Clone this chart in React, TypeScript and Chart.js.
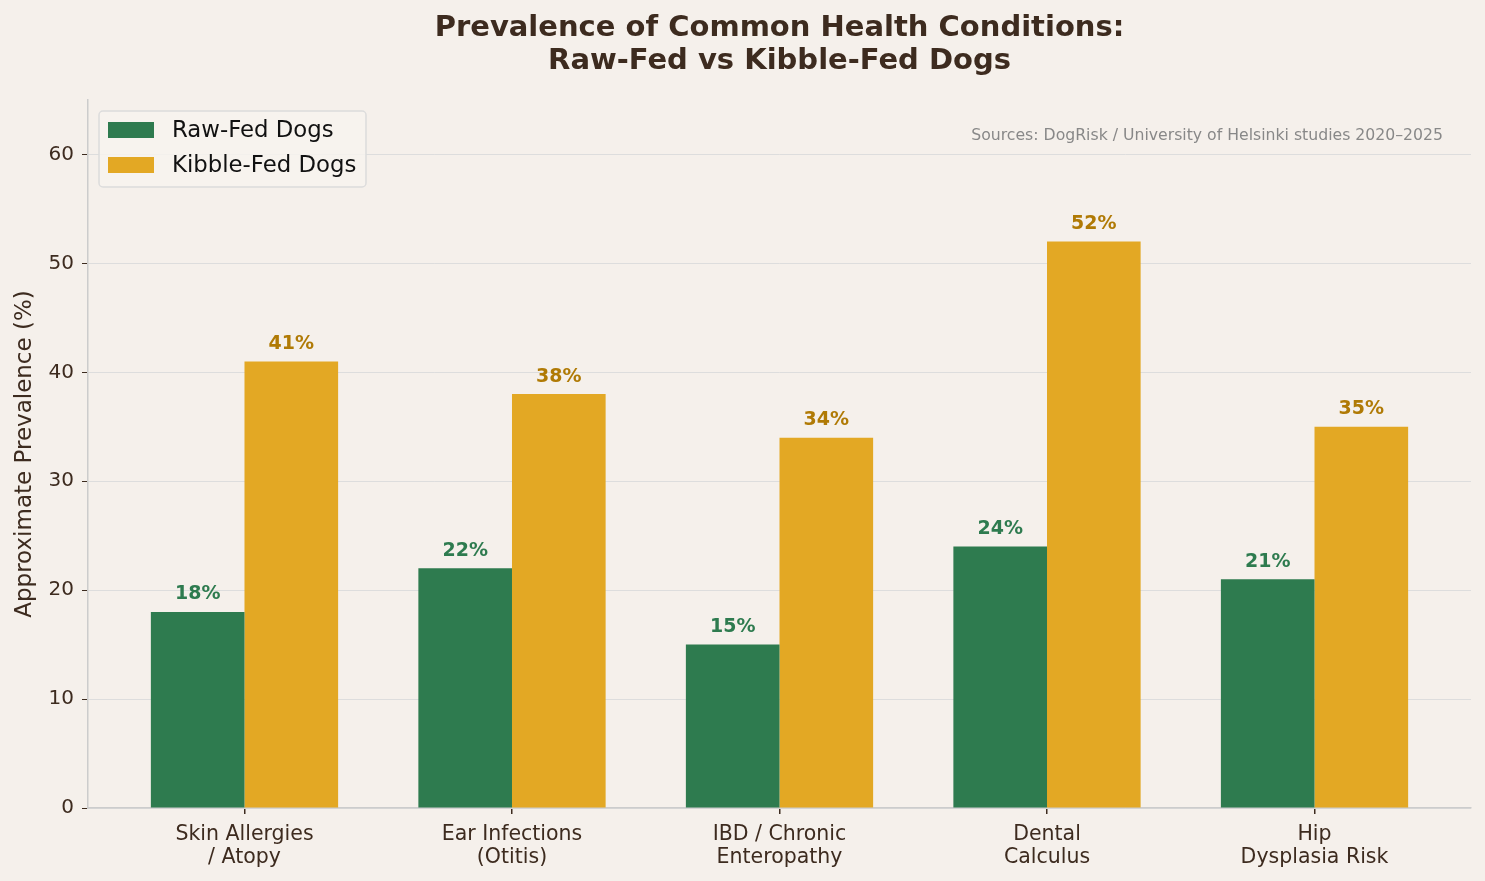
import React, { useEffect, useRef } from "react";
import { Chart, registerables } from "chart.js";

Chart.register(...registerables);

// Health condition categories (multi-line tick labels)
const conditions: string[][] = [
  ["Skin Allergies", "/ Atopy"],
  ["Ear Infections", "(Otitis)"],
  ["IBD / Chronic", "Enteropathy"],
  ["Dental", "Calculus"],
  ["Hip", "Dysplasia Risk"],
];

// Approximate prevalence (%) per diet group
const rawFed: number[] = [18, 22, 15, 24, 21];
const kibbleFed: number[] = [41, 38, 34, 52, 35];

const yTicks: number[] = [0, 10, 20, 30, 40, 50, 60];

const seriesNames = ["Raw-Fed Dogs", "Kibble-Fed Dogs"];
const barColors = ["#2e7b4f", "#e3a824"];
const labelColors = ["#2e7b4f", "#b07a05"];

const BG = "#f5f0eb";
const INK = "#3d2b1f";
const FONT = "'DejaVu Sans', sans-serif";

const decorPlugin = {
  id: "decor",
  beforeDraw(chart: any) {
    const { ctx, width, height } = chart;
    ctx.save();
    ctx.fillStyle = BG;
    ctx.fillRect(0, 0, width, height);
    ctx.restore();
  },
  afterDatasetsDraw(chart: any) {
    const { ctx } = chart;
    ctx.save();
    ctx.font = `bold 19px ${FONT}`;
    ctx.textAlign = "center";
    ctx.textBaseline = "middle";
    chart.data.datasets.forEach((ds: any, di: number) => {
      const meta = chart.getDatasetMeta(di);
      meta.data.forEach((bar: any, i: number) => {
        const v = ds.data[i].y;
        ctx.fillStyle = labelColors[di];
        ctx.fillText(`${v}%`, bar.x, bar.y - 17.5);
      });
    });
    ctx.restore();
  },
  afterDraw(chart: any) {
    const { ctx, chartArea } = chart;
    const cx = (chartArea.left + chartArea.right) / 2;
    ctx.save();

    // Title
    ctx.fillStyle = INK;
    ctx.font = `bold 29px ${FONT}`;
    ctx.textAlign = "center";
    ctx.textBaseline = "middle";
    ctx.fillText("Prevalence of Common Health Conditions:", cx, 28);
    ctx.fillText("Raw-Fed vs Kibble-Fed Dogs", cx, 61);

    // Y axis title
    ctx.save();
    ctx.translate(25, (chartArea.top + chartArea.bottom) / 2);
    ctx.rotate(-Math.PI / 2);
    ctx.font = `23px ${FONT}`;
    ctx.fillStyle = INK;
    ctx.fillText("Approximate Prevalence (%)", 0, 0);
    ctx.restore();

    // Source note
    ctx.font = `15.7px ${FONT}`;
    ctx.fillStyle = "#888888";
    ctx.textAlign = "right";
    ctx.fillText("Sources: DogRisk / University of Helsinki studies 2020\u20132025", 1443, 136);

    // Legend
    const lx = 99, ly = 111, lw = 267, lh = 76, r = 4;
    ctx.beginPath();
    ctx.moveTo(lx + r, ly);
    ctx.arcTo(lx + lw, ly, lx + lw, ly + lh, r);
    ctx.arcTo(lx + lw, ly + lh, lx, ly + lh, r);
    ctx.arcTo(lx, ly + lh, lx, ly, r);
    ctx.arcTo(lx, ly, lx + lw, ly, r);
    ctx.closePath();
    ctx.fillStyle = "rgba(247,243,239,0.85)";
    ctx.fill();
    ctx.strokeStyle = "#dcdcdc";
    ctx.lineWidth = 1.5;
    ctx.stroke();
    ctx.textAlign = "left";
    ctx.font = `22.8px ${FONT}`;
    seriesNames.forEach((name, i) => {
      const y = 130 + i * 35;
      ctx.fillStyle = barColors[i];
      ctx.fillRect(108, y - 8, 46, 16);
      ctx.fillStyle = "#111111";
      ctx.fillText(name, 172, y + 1);
    });

    ctx.restore();
  },
};

export default function App() {
  const canvasRef = useRef<HTMLCanvasElement | null>(null);

  useEffect(() => {
    document.body.style.margin = "0";
    document.body.style.background = BG;
    const canvas = canvasRef.current;
    if (!canvas) return;

    const chart = new Chart(canvas, {
      type: "bar",
      data: {
        datasets: [
          {
            label: seriesNames[0],
            data: rawFed.map((v, i) => ({ x: i, y: v })),
            backgroundColor: barColors[0],
          },
          {
            label: seriesNames[1],
            data: kibbleFed.map((v, i) => ({ x: i, y: v })),
            backgroundColor: barColors[1],
          },
        ],
      },
      options: {
        responsive: false,
        animation: false,
        layout: { padding: { top: 100, right: 14, left: 0, bottom: 0 } },
        datasets: {
          bar: { categoryPercentage: 0.7, barPercentage: 1.0 },
        },
        plugins: {
          legend: { display: false },
          title: { display: false },
          tooltip: { enabled: false },
        },
        scales: {
          x: {
            type: "linear",
            min: -0.585,
            max: 4.585,
            offset: false,
            afterBuildTicks: (scale: any) => {
              scale.ticks = conditions.map((_, i) => ({ value: i }));
            },
            afterFit: (scale: any) => {
              scale.height = 73;
            },
            ticks: {
              autoSkip: false,
              maxRotation: 0,
              padding: 9,
              color: INK,
              font: { family: FONT, size: 20.5, lineHeight: 1.12 },
              callback: (v: any) => conditions[Math.round(v)] ?? "",
            },
            grid: {
              offset: false,
              drawOnChartArea: false,
              drawTicks: true,
              tickLength: 6,
              tickColor: INK,
              lineWidth: 1.5,
            },
            border: { display: true, color: "#cccccc", width: 1.5 },
          },
          y: {
            min: 0,
            max: 65,
            afterBuildTicks: (scale: any) => {
              scale.ticks = yTicks.map((v) => ({ value: v }));
            },
            afterFit: (scale: any) => {
              scale.width = 88;
            },
            ticks: {
              padding: 8,
              color: INK,
              font: { family: FONT, size: 20 },
            },
            grid: {
              color: "#dddddd",
              tickColor: INK,
              tickLength: 6,
              lineWidth: 1,
            },
            border: { display: true, color: "#cccccc", width: 1.5 },
          },
        },
      },
      plugins: [decorPlugin],
    } as any);

    return () => chart.destroy();
  }, []);

  return (
    <div style={{ width: 1485, height: 881 }}>
      <canvas ref={canvasRef} width={1485} height={881} style={{ display: "block" }} />
    </div>
  );
}
